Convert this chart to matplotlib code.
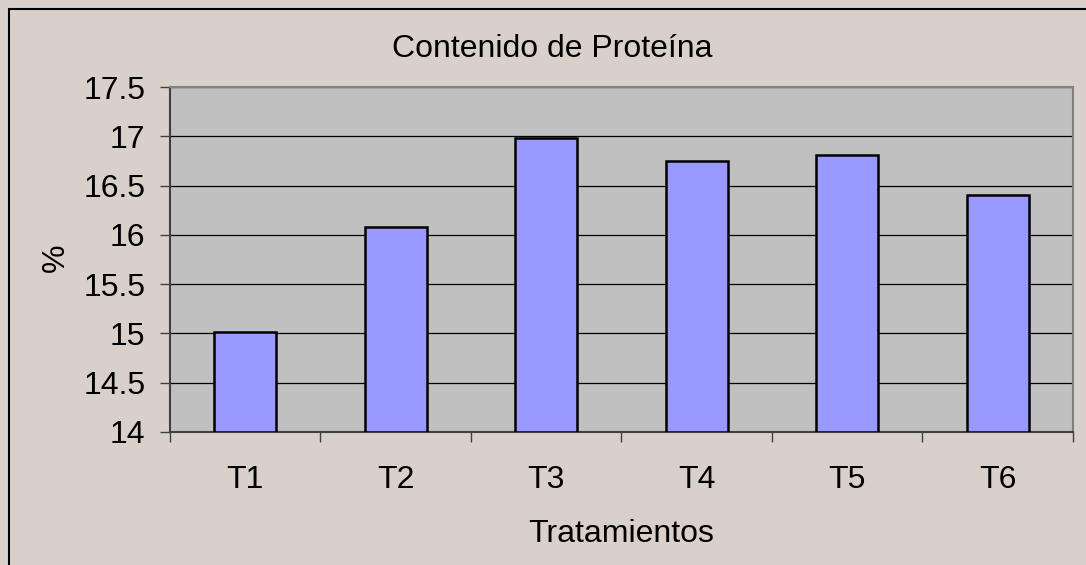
import numpy as np
import matplotlib.pyplot as plt
from matplotlib.patches import Rectangle

plt.rcParams['font.family'] = ['Liberation Sans', 'DejaVu Sans']

tratamientos = ["T1", "T2", "T3", "T4", "T5", "T6"]
proteina = [15.01, 16.08, 16.98, 16.75, 16.81, 16.40]
y_ticks = [14, 14.5, 15, 15.5, 16, 16.5, 17, 17.5]
y_tick_labels = ["14", "14.5", "15", "15.5", "16", "16.5", "17", "17.5"]

fig = plt.figure(figsize=(10.86, 5.65), dpi=100, facecolor="#D9D0CA")
ax = fig.add_axes([0.1565, 0.2354, 0.8315, 0.6106])
ax.set_facecolor("#C0C0C0")

# outer chart frame (only left/top visible in the reference)
fig.patches.append(Rectangle((9 / 1086, -0.1), 1.2, 1 - 9 / 565 + 0.1,
                             transform=fig.transFigure, fill=False,
                             edgecolor="black", linewidth=1.5))

x = np.arange(len(tratamientos))
base = y_ticks[0]
ax.bar(x, np.array(proteina) - base, bottom=base, width=0.41,
       color="#9999FF", edgecolor="black", linewidth=1.8, zorder=3)

ax.set_xlim(-0.5, len(tratamientos) - 0.5)
ax.set_ylim(y_ticks[0], y_ticks[-1])
ax.set_yticks(y_ticks, labels=y_tick_labels)
ax.yaxis.grid(True, color="black", linewidth=0.9, zorder=1)
ax.set_axisbelow(True)

# category ticks between bars, labels at centres
ax.set_xticks(np.arange(-0.5, len(tratamientos)), minor=False)
ax.set_xticklabels([])
ax.set_xticks(x, labels=tratamientos, minor=True)
ax.tick_params(axis="x", which="minor", length=0, pad=23.5, labelsize=23)
ax.tick_params(axis="x", which="major", length=7.2, width=1, color="#404040")
ax.tick_params(axis="y", length=7.2, width=1, color="#404040", labelsize=23, pad=10.5)

for side in ["left", "bottom", "top", "right"]:
    ax.spines[side].set_color("#808080")
    ax.spines[side].set_linewidth(1.5)
ax.spines["left"].set_color("#404040")
ax.spines["bottom"].set_color("#404040")

fig.text(552 / 1086, 1 - 49 / 565, "Contenido de Proteína", fontsize=23,
         ha="center", va="center")
fig.text(621 / 1086, 1 - 534 / 565, "Tratamientos", fontsize=23,
         ha="center", va="center")
fig.text(56 / 1086, 1 - 258 / 565, "%", fontsize=23, rotation=90,
         ha="center", va="center")

fig.savefig("out.png", dpi=100, facecolor=fig.get_facecolor())
